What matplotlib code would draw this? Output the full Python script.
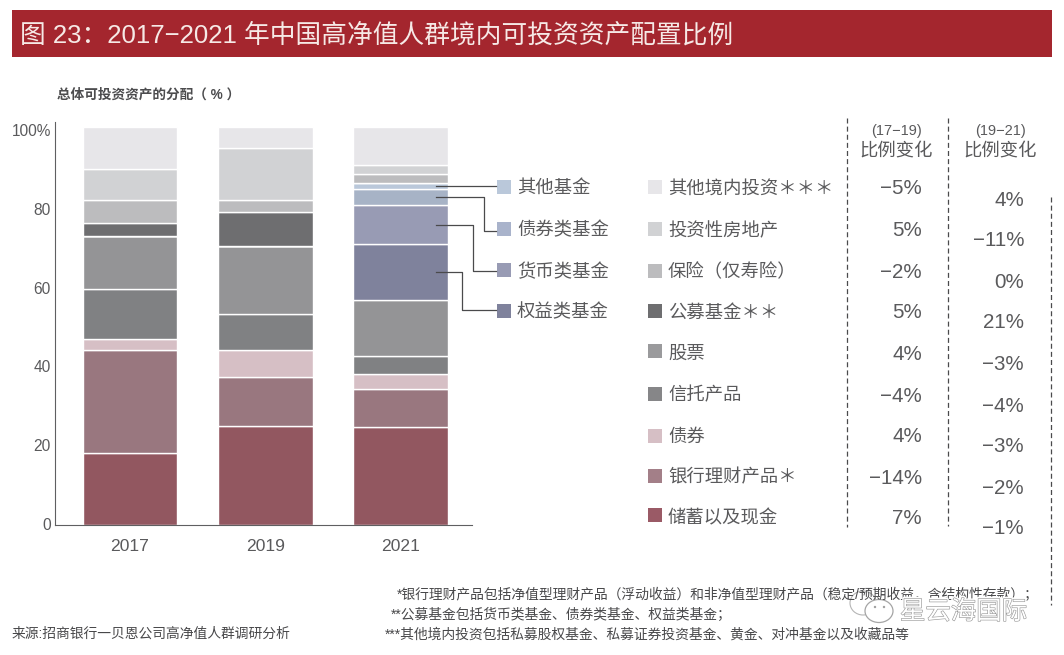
import matplotlib
matplotlib.use('Agg')
import matplotlib.pyplot as plt
from matplotlib.patches import Rectangle, Ellipse, Circle
import matplotlib.patheffects as pe

plt.rcParams['font.family'] = ['Liberation Sans', 'Noto Sans CJK SC', 'DejaVu Sans']

years = ['2017', '2019', '2021']
cash = [18.1, 24.9, 24.6]
wealth = [25.8, 12.3, 9.5]
bonds = [2.8, 6.7, 3.9]
trust = [12.6, 9.1, 4.5]
stocks = [13.3, 17.0, 14.0]
equity_fund = [0, 0, 14.0]
money_fund = [0, 0, 9.8]
bond_fund = [0, 0, 4.1]
other_fund = [0, 0, 1.5]
public_fund = [3.4, 8.6, 0]
insurance = [5.6, 3.0, 2.2]
property_inv = [7.9, 13.0, 2.4]
other_dom = [10.5, 5.4, 9.5]

stack = [cash, wealth, bonds, trust, stocks, equity_fund, money_fund, bond_fund,
         other_fund, public_fund, insurance, property_inv, other_dom]
stack_colors = ['#925760', '#99777f', '#d6bfc5', '#808183', '#949496', '#7f829c',
                '#989bb4', '#a7b3c6', '#bac8da', '#6e6e70', '#bcbcbe', '#d1d2d4', '#e7e6e9']

fund_labels = ['其他基金', '债券类基金', '货币类基金', '权益类基金']
fund_colors = ['#bac8da', '#a9b3cb', '#989bb4', '#7f829c']

legend_labels = ['其他境内投资＊＊＊', '投资性房地产', '保险（仅寿险）', '公募基金＊＊', '股票',
                 '信托产品', '债券', '银行理财产品＊', '储蓄以及现金']
legend_colors = ['#e7e6e9', '#d1d2d4', '#bcbcbe', '#6e6e70', '#9a9a9c',
                 '#868688', '#d6bfc5', '#a37f88', '#9a5a66']
change_17_19 = ['−5%', '5%', '−2%', '5%', '4%', '−4%', '4%', '−14%', '7%']
change_19_21 = ['4%', '−11%', '0%', '21%', '−3%', '−4%', '−3%', '−2%', '−1%']

W, H = 1064, 655
TXT = '#5a5a5c'
fig = plt.figure(figsize=(W / 100, H / 100), dpi=100)

# overlay in pixel coords for the report furniture
pg = fig.add_axes([0, 0, 1, 1], zorder=3)
pg.set_xlim(0, W)
pg.set_ylim(H, 0)
pg.axis('off')
pg.patch.set_alpha(0)

# bars
ax = fig.add_axes([55 / W, (H - 525.3) / H, 417 / W, 403.3 / H], zorder=2)
ax.patch.set_alpha(0)
ax.set_xlim(-0.5545, 2.529)
ax.set_ylim(0, 101.25)
bottom = [0, 0, 0]
for vals, col in zip(stack, stack_colors):
    ax.bar([0, 1, 2], vals, width=0.70, bottom=bottom, color=col,
           edgecolor='white', linewidth=1.0)
    bottom = [b + v for b, v in zip(bottom, vals)]
ax.spines['top'].set_visible(False)
ax.spines['right'].set_visible(False)
ax.spines['left'].set_color('#5f5f61')
ax.spines['bottom'].set_color('#5f5f61')
ax.set_xticks([0, 1, 2], years)
# the labels sit slightly off the true scale in the original
ax.set_yticks([0.3, 20.1, 39.9, 59.7, 79.4, 99.3], ['0', '20', '40', '60', '80', '100%'])
ax.tick_params(axis='x', length=0, pad=10, labelsize=12.6, labelcolor=TXT)
ax.tick_params(axis='y', length=0, pad=3, labelsize=11.2, labelcolor=TXT)

# title band
pg.add_patch(Rectangle((12, 10), 1040, 47, color='#a4262e', lw=0))
pg.text(20, 35, '图 23：2017−2021 年中国高净值人群境内可投资资产配置比例', color='#f6e9e6',
        fontsize=18.5, va='center', ha='left')
pg.text(57, 95, '总体可投资资产的分配（ % ）', color='#4c4c4e', fontsize=9.8,
        fontweight='bold', va='center')

# fund legend with leader lines
fund_y = [186.7, 229, 270, 310.7]
fund_end_y = [None, 231, 270.5, 309.5]
elbow_x = [None, 484, 473, 462]
fund_series = [other_fund, bond_fund, money_fund, equity_fund]
fund_base = [sum(s[2] for s in stack[:i]) for i in (8, 7, 6, 5)]
for i, lab in enumerate(fund_labels):
    pg.add_patch(Rectangle((497, fund_y[i] - 7), 14, 14, color=fund_colors[i], lw=0))
    pg.text(517, fund_y[i] + 2, lab, color=TXT, fontsize=13.2, va='center')
    mid = fund_base[i] + fund_series[i][2] / 2
    y0 = 525.3 - mid * 403.3 / 101.25
    if elbow_x[i] is None:
        xs, ys = [436, 496], [y0, y0]
    else:
        xs, ys = [436, elbow_x[i], elbow_x[i], 496], [y0, y0, fund_end_y[i], fund_end_y[i]]
    pg.plot(xs, ys, color='#4a4a4c', lw=0.9)

# main legend and change columns
swatch_y = [187.3, 229, 270.7, 311, 351, 394, 436, 476, 515]
legend_y = [187, 229, 270, 311, 352, 394, 435, 476, 517]
col2_y = [198, 239, 280, 321, 363, 404, 445, 486, 527]
for i, lab in enumerate(legend_labels):
    pg.add_patch(Rectangle((648, swatch_y[i] - 7), 14, 14, color=legend_colors[i], lw=0))
    pg.text(668, legend_y[i] + 2, lab, color=TXT, fontsize=13.2, va='center')
    pg.text(922, legend_y[i] + 2, change_17_19[i], color=TXT, fontsize=14.8, va='center', ha='right')
    pg.text(1024, col2_y[i] + 2, change_19_21[i], color=TXT, fontsize=14.8, va='center', ha='right')

for cx, rng in zip([896.5, 1000], ['(17−19)', '(19−21)']):
    pg.text(cx, 131, rng, color=TXT, fontsize=10.5, va='center', ha='center')
    pg.text(cx, 151, '比例变化', color=TXT, fontsize=13.2, va='center', ha='center')

for x, y0, y1 in [(846.7, 118, 527), (948, 118, 526), (1050.7, 197, 605)]:
    pg.plot([x, x], [y0, y1], color='#4a4a4c', lw=0.9, ls=(0, (4, 2.5)))

# notes
NOTE = '#48484a'
pg.text(12, 634, '来源:招商银行一贝恩公司高净值人群调研分析', color=NOTE, fontsize=9.95, va='center')
pg.text(397, 594.5, '*银行理财产品包括净值型理财产品（浮动收益）和非净值型理财产品（稳定/预期收益，含结构性存款）；',
        color=NOTE, fontsize=9.95, va='center')
pg.text(391, 614.5, '**公募基金包括货币类基金、债券类基金、权益类基金；', color=NOTE, fontsize=9.95, va='center')
pg.text(385, 634.5, '***其他境内投资包括私募股权基金、私募证券投资基金、黄金、对冲基金以及收藏品等',
        color=NOTE, fontsize=9.95, va='center')

# watermark
pg.add_patch(Ellipse((863, 603), 26, 24, fc='white', ec='#b5b5b5', lw=0.8))
pg.add_patch(Ellipse((879, 611), 28, 23, fc='white', ec='#a5a5a5', lw=0.9))
pg.add_patch(Circle((875, 607), 1.2, color='#a0a0a0', lw=0))
pg.add_patch(Circle((884, 607), 1.2, color='#a0a0a0', lw=0))
pg.text(900, 612, '星云海国际', color='#ffffff', fontsize=18.3, va='center',
        path_effects=[pe.Stroke(linewidth=3.0, foreground='white'),
                      pe.Stroke(linewidth=0.9, foreground='#9a9a9a'), pe.Normal()])

fig.savefig('out.png', dpi=100)
